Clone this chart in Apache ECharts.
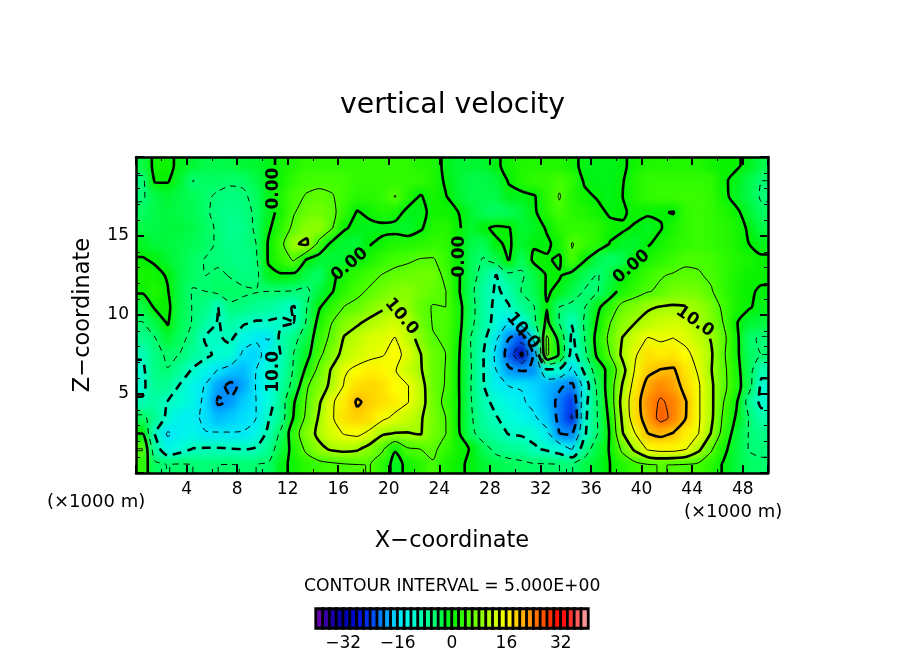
<!DOCTYPE html>
<html>
<head>
<meta charset="utf-8">
<style>
html, body { margin: 0; padding: 0; background: #fff; }
#container { width: 904px; height: 654px; }
</style>
<script src="https://cdn.jsdelivr.net/npm/echarts@6/dist/echarts.min.js"></script>
</head>
<body>
<div id="container"></div>
<script>
// x and z cell centres, in units of 1000 m
var xCells = [];
for (var n = 0; n < 50; n++) xCells.push(n + 0.5);
var zCells = [];
for (var m = 0; m < 20; m++) zCells.push(m + 0.5);

// vertical velocity, one row per km, top row (z=19.5) first
var velocityRows = [
	[-3,1,1,-1,-2,-3,-3,-3,-2,-2,  -1,1,2,3,3,3,3,3,3,3,  3,3,2,2,-1,-2,-2,-2,-0.5,1,  2,2,2,2,1,-1,-1,-1,-0.5,1,  2,2,2,2,2,1,0.5,0.5,-1,-3],
	[-6,0.4,0.3,-2,-5.1,-4,-4,-4.5,-4.5,-3,  -1,1,3,4,4,4,4,3,3,3,  3,3,3,2,-0.5,-2,-3,-3,-2.5,0.3,  2,3,3,4,3,-0.5,-1,-1,-0.2,2,  3,3,3,3,3,3,0.5,-1,-3,-5],
	[-5.5,-3,-2,-3,-3.5,-4.5,-5.5,-6,-5.5,-4,  -1,2,4,5.3,6,5.3,3.5,2.5,2.5,3,  5.2,2,-0.3,1.5,0.2,-2,-3,-3,-3,-1,  -1,-0.3,2.5,5.3,2,0.8,-0.3,-1,0,2,  3,3.5,3.5,3.5,3.5,3,1,-1.5,-3,-5.5],
	[-4,-3,-2.5,-3,-3.5,-4.5,-6,-6.5,-6,-4.5,  -1.5,1.5,4.8,6.5,7,6,3,-0.3,1,2,  1.5,-1,-1,1,1,0,-2,-3.5,-4,-3.5,  -2.5,-0.5,2,4,2.5,2,1,-0.5,-0.5,1,  0.5,0.3,-0.2,3,3.5,3,2,0.8,-2,-4],
	[-3,-3,-2.5,-2.5,-3,-4,-5.5,-7,-6.5,-4.5,  -0.5,2.5,6,8.5,9,5.3,0.3,-0.8,-1.2,-1,  -1.2,-2,-0.5,2,2.5,0.5,-2,-0.5,0.6,0.2,  -2,-1.5,0.3,2.5,3,3,2.5,1,0.5,-0.5,  -1.5,-0.2,1.5,3,3.5,3,2.5,1.5,-0.5,-3],
	[-1.5,-2.5,-2.5,-3,-3.5,-4,-5.5,-6.5,-6,-5,  0.5,4,9.5,10.8,3.5,-1,-2,-2.5,-0.2,1,  2,2,2.5,3,3,0.3,-3,-3.5,-0.5,0.5,  -2,-0.5,-0.5,1,5.2,3.5,2.5,-0.2,-1.5,-2,  -0.3,1,2.5,3,3.5,3,2.5,1.5,0,-1],
	[0.3,-0.5,-2,-3,-4,-5.2,-5.5,-6,-6.5,-5.5,  0.5,3,5.5,-0.3,-2,-2.5,-2,-0.3,1.5,3,  4,4.5,5.2,5.3,3.5,0.2,-3.5,-5.3,-3,0.2,  -4,1,0.3,-0.5,4.5,0.3,-3,-4.5,-3.5,-0.3,  1.5,2.5,3.5,4.5,4.5,4,3,2,1.5,0.5],
	[1.5,1,-0.3,-3,-4,-5,-4.5,-5.2,-6,-6,  -1,-0.5,-1,-3,-4.5,-0.8,1.5,3,4,5.2,  6,6.5,7,7,4,0.5,-3.5,-6.5,-10.2,-6,  -5.5,-3,0.3,0.3,-1.5,-3.5,-5.3,-3,0,2,  3.5,4.8,5.3,5.6,5.3,4.5,3,1.5,0.8,0.6],
	[0.5,2,0.2,-3,-5.3,-5,-4,-4,-4.5,-4.8,  -5,-5,-5.2,-5.8,-2.5,-0.3,2.5,4.2,5.5,7,  8,8.5,7,6,5.1,0.5,-4,-8,-10.5,-9,  -4.8,-3.5,0.4,-0.8,-3,-5.3,-5.2,-2,1.5,3,  4.8,5.5,7,7.5,7,5.3,3,1.5,0.4,-0.4],
	[-3,0.5,0.8,-3,-5.2,-6,-10,-5.5,-6,-7,  -7.5,-9,-10.3,-5.1,-0.3,2.5,5.2,6,8,9.5,  10.2,9,6,4.8,5,1.5,-3.5,-8,-11,-10.2,  -7,-5.1,-0.2,-5.1,-6,-5.1,-0.8,2.5,6.5,8,  9.5,10.2,10.5,10.2,9.5,7.5,4,1.5,0.3,-1],
	[-5.2,-3,0.3,-3.5,-5.2,-8,-10.3,-8,-9.5,-10.5,  -10.5,-10.5,-10,-4.5,1.5,5,8,9.5,11,12,  13,11.5,7,4.8,4.8,1.5,-4,-8,-11.5,-15.5,  -13,-6,1,-5.2,-9.8,-4.5,0.3,4.9,8.5,10,  11.5,12.5,13,12.5,10.5,8,4.8,0.2,-2,-2.5],
	[-7,-5.2,-2,-4.2,-6,-10.5,-10.3,-9.5,-13,-14.5,  -15.2,-8.5,-6,-3,3,6,10.5,12,13.5,14,  15.2,12,8.5,5.2,4.7,1,-5.2,-9,-14.5,-20,  -23,-14,6,-1.5,-11,-5,1.5,6,10.2,13,  15.3,14.5,15.1,14,12,9.8,6,1,-4.5,-5.4],
	[-9.5,-6,-4.5,-5.1,-7.5,-9,-11,-11,-16,-16.5,  -13,-9.8,-4.8,-1.5,4,8,11.5,13,14,14.8,  16,14,10.2,6.5,5,0.5,-5,-10,-16,-22,  -31,-19,6,-0.5,-12,-6,0.8,5.1,11,14.5,  18,17,17.5,16,13.5,10.5,5.5,1,-4,-5],
	[-11,-6,-5.1,-7.5,-10.5,-13,-15.2,-17,-18,-15,  -11.5,-9,-4.5,1,6.5,10.5,14.5,16,17,16.5,  15.2,12.5,10.5,6.5,4.9,0.3,-4.8,-10,-15,-19.5,  -20.2,-19.8,-11,-11,-16,-9,-2.5,1.5,8.5,15.5,  19,20.2,20.5,17.5,14.5,10.2,6,1.5,-3.5,-9],
	[-11,-7,-7,-10.5,-13,-15.3,-19,-21,-19,-14.8,  -12,-8,-3.5,4.5,8,11,15.5,18,18.5,18,  16,15.2,12,6.5,4.8,0.3,-5,-9.8,-14,-15,  -15.2,-16.5,-18,-19.5,-21,-13,-4,2.5,10.5,17,  21.5,23.5,22,18.5,15.5,10.8,6,2,-3.5,-11],
	[-9.5,-8,-10.2,-11,-13,-16,-20.5,-19.5,-17,-15,  -12,-7,-0.3,5.3,9.5,14.5,17,20.5,19,18,  17,15.2,12,7,4,0.4,-4.8,-9,-11,-13,  -14.5,-16,-18,-21,-24,-11.5,-4.8,2,12,18,  23,25.5,24,20.2,15.5,11,5,0.5,-7,-11],
	[-4,-7,-11,-14,-14,-16,-18,-17,-16,-15,  -10.3,-7,0.5,6,10.5,14.5,18,19,18,16,  14,12.5,10.5,7.5,5,0.3,-4.5,-8,-9.8,-11.5,  -13,-14.5,-17,-21,-25.5,-11,-5,1,11,18,  22,26.5,24,20,15.5,11,4,-0.5,-5.2,-8.5],
	[0,-10.2,-15.5,-14,-13,-14.8,-14.7,-14.8,-14.8,-13,  -9,-4,3,8,11,13.5,15.3,16,14,10.5,  9.8,9.8,10.3,7,5.1,0.5,-4,-7,-8.5,-10.2,  -10.5,-11,-14,-20,-20.5,-10.5,-5.2,0.4,9.8,15,  20,21,19.8,17,15.1,9.8,3,-2,-5.2,-6.5],
	[5.2,-8,-13,-11.5,-9.8,-9.5,-9.5,-9.8,-10,-9.5,  -7,-2.5,1.5,6,9,10.5,11,10.5,8,5.5,  0.3,4.5,5,6,3,1,-0.2,-3.5,-6,-7,  -7.5,-9.5,-10.5,-12,-15.2,-7,-2.5,0.3,6,11,  15.5,16.5,16.5,15.2,11,5.5,1,-2.5,-5.2,-5.5],
	[3,-4,-5.1,-4.5,-5,-5.2,-5,-4.8,-5.1,-5,  -4.5,-1,1,2.5,3.5,4,4.5,4.8,5.1,2.5,  -1.5,1,2.5,4.5,1.5,0.5,-0.5,-2,-3,-3.5,  -4,-4.5,-4.5,-5,-5.1,-3,-1.5,0,2,3.5,  4.5,5.2,4.8,4.5,4,2.5,-0.5,-2.5,-4,-4.5]
];

// contour levels, every 5; multiples of 10 are the heavy ones
var contourLevels = [-30, -25, -20, -15, -10, -5, 0, 5, 10, 15, 20, 25];

// labels sitting on the contours: text, level, x, z, rotation
var contourLabels = [
	['0.00', 0, 16.9, 13.2, 40],
	['0.00', 0, 10.9, 18.0, 90],
	['0.00', 0, 25.6, 13.7, 90],
	['0.00', 0, 39.2, 13.05, 40],
	['10.0', 10, 21.0, 9.9, -50],
	['10.0', 10, 44.2, 9.6, -35],
	['10.0', -10, 10.9, 6.4, 90],
	['10.0', -10, 30.6, 9.0, -50]
];

// colour bar
var barValues = [-39,-37,-35,-33,-31,-29,-27,-25,-23,-21,-19,-17,-15,-13,-11,-9,-7,-5,-3,-1,
	1,3,5,7,9,11,13,15,17,19,21,23,25,27,29,31,33,35,37,39];
var barTicks = [-32, -16, 0, 16, 32];
var barColors = ['#8000b0','#2000a0','#0000a8','#0008d0','#0038f0','#0090ff','#00e0ff','#00ffe0','#00ffa0','#00ff60','#00f000',
	'#40ff00','#80ff00','#c0ff00','#ffff00','#ffc000','#ff8000','#ff4000','#ff0000','#ff4040','#ffb0b0'];

var font = 'DejaVu Sans';
var LINES_LEVEL = 2;

// nodes for tracing: cell centres, plus the plot edges carrying the nearest row/column
function buildNodes() {
	var xs = [0].concat(xCells, [50]);
	var zs = [0].concat(zCells, [20]);
	var vals = [];
	for (var j = 0; j < zs.length; j++) {
		var r = velocityRows[19 - Math.min(19, Math.max(0, j - 1))];
		vals.push([r[0]].concat(r, [r[49]]));
	}
	return { xs: xs, zs: zs, vals: vals };
}

// marching squares, segments chained to polylines
var caseEdges = {
	1: [[3, 0]], 2: [[0, 1]], 3: [[3, 1]], 4: [[1, 2]], 5: [[3, 2], [0, 1]], 6: [[0, 2]], 7: [[3, 2]],
	8: [[2, 3]], 9: [[2, 0]], 10: [[2, 1], [0, 3]], 11: [[2, 1]], 12: [[1, 3]], 13: [[1, 0]], 14: [[0, 3]]
};

function traceLevel(nodes, level) {
	var xs = nodes.xs, zs = nodes.zs, v = nodes.vals;
	var edgePoint = {};
	var segs = [];
	function key(i, j, e) {
		if (e === 0) return 'h' + i + '_' + j;
		if (e === 2) return 'h' + i + '_' + (j + 1);
		if (e === 3) return 'v' + i + '_' + j;
		return 'v' + (i + 1) + '_' + j;
	}
	function cross(i, j, e) {
		var a, b, t;
		if (e === 0 || e === 2) {
			var jj = e === 0 ? j : j + 1;
			a = v[jj][i]; b = v[jj][i + 1]; t = (level - a) / (b - a);
			return [xs[i] + t * (xs[i + 1] - xs[i]), zs[jj]];
		}
		var ii = e === 3 ? i : i + 1;
		a = v[j][ii]; b = v[j + 1][ii]; t = (level - a) / (b - a);
		return [xs[ii], zs[j] + t * (zs[j + 1] - zs[j])];
	}
	for (var j = 0; j < zs.length - 1; j++) {
		for (var i = 0; i < xs.length - 1; i++) {
			var code = (v[j][i] >= level ? 1 : 0) + (v[j][i + 1] >= level ? 2 : 0) +
				(v[j + 1][i + 1] >= level ? 4 : 0) + (v[j + 1][i] >= level ? 8 : 0);
			var pairs = caseEdges[code];
			if (!pairs) continue;
			for (var p = 0; p < pairs.length; p++) {
				var k0 = key(i, j, pairs[p][0]), k1 = key(i, j, pairs[p][1]);
				edgePoint[k0] = cross(i, j, pairs[p][0]);
				edgePoint[k1] = cross(i, j, pairs[p][1]);
				segs.push([k0, k1]);
			}
		}
	}
	var byKey = {};
	segs.forEach(function(s, idx) {
		(byKey[s[0]] = byKey[s[0]] || []).push(idx);
		(byKey[s[1]] = byKey[s[1]] || []).push(idx);
	});
	var used = [];
	var lines = [];
	function walk(cur, out) {
		while (true) {
			var next = (byKey[cur] || []).filter(function(idx) { return !used[idx]; })[0];
			if (next === undefined) return;
			used[next] = true;
			cur = segs[next][0] === cur ? segs[next][1] : segs[next][0];
			out.push(cur);
		}
	}
	segs.forEach(function(s, idx) {
		if (used[idx]) return;
		used[idx] = true;
		var fwd = [s[1]], back = [];
		walk(s[1], fwd);
		walk(s[0], back);
		var chain = back.reverse().concat([s[0]], fwd);
		lines.push(chain.map(function(k) { return edgePoint[k]; }));
	});
	return lines;
}

// leave the contour open where its label sits
function splitAtLabels(line, level) {
	var parts = [[]];
	line.forEach(function(pt) {
		var hidden = contourLabels.some(function(l) {
			if (l[1] !== level) return false;
			var dx = (pt[0] - l[2]) * 12.64, dy = (pt[1] - l[3]) * 15.8;
			return dx * dx + dy * dy < 17 * 17;
		});
		if (hidden) parts.push([]);
		else parts[parts.length - 1].push(pt);
	});
	return parts.filter(function(p) { return p.length > 1; });
}

var fieldData = [];
velocityRows.forEach(function(row, r) {
	row.forEach(function(val, c) { fieldData.push([c, 19 - r, val]); });
});
var barData = barValues.map(function(val, c) { return [c, 0, val]; });

// field twice: sharp on the bottom layer, softened copy above it (see end of file)
var series = [{
	type: 'heatmap', xAxisIndex: 0, yAxisIndex: 0, data: fieldData, z: 1, zlevel: 0, animation: false
}, {
	type: 'heatmap', xAxisIndex: 0, yAxisIndex: 0, data: fieldData, z: 1, zlevel: 1, animation: false
}, {
	type: 'heatmap', xAxisIndex: 3, yAxisIndex: 3, data: barData, z: 1, zlevel: 0,
	itemStyle: { borderColor: '#000', borderWidth: 2.8 }, animation: false
}];

var nodes = buildNodes();
contourLevels.forEach(function(level) {
	var heavy = level % 10 === 0;
	traceLevel(nodes, level).forEach(function(line) {
		splitAtLabels(line, level).forEach(function(part) {
			series.push({
				type: 'line', xAxisIndex: 1, yAxisIndex: 1, data: part, z: 3, zlevel: LINES_LEVEL,
				showSymbol: false, symbol: 'none', smooth: 0.25, animation: false, silent: true, clip: true,
				lineStyle: {
					color: '#000', width: heavy ? 2.6 : 1,
					type: level < 0 ? (heavy ? [9, 6] : [6, 5]) : 'solid'
				}
			});
		});
	});
});

series.push({
	type: 'scatter', xAxisIndex: 1, yAxisIndex: 1, symbolSize: 0, z: 4, zlevel: LINES_LEVEL, animation: false, silent: true,
	data: contourLabels.map(function(l) {
		return {
			value: [l[2], l[3]],
			label: { show: true, position: 'inside', formatter: l[0], rotate: l[4], color: '#000',
				fontFamily: font, fontSize: 17, fontWeight: 'bold', opacity: 1 }
		};
	})
});

function frameAxis(o) {
	var base = {
		gridIndex: 0, type: 'value', z: 10, zlevel: LINES_LEVEL,
		axisLine: { show: true, onZero: false, lineStyle: { color: '#000', width: 2.5 } },
		axisTick: { show: true, inside: true, length: 8, lineStyle: { color: '#000', width: 2 } },
		splitLine: { show: false },
		axisLabel: { show: false }
	};
	for (var k in o) base[k] = o[k];
	return base;
}
function minor(split) {
	return { show: true, splitNumber: split, length: 4, lineStyle: { color: '#000', width: 1 } };
}
var hiddenCategory = function(grid, data) {
	return { type: 'category', gridIndex: grid, data: data, show: false };
};

var option = {
	backgroundColor: '#fff',
	animation: false,
	textStyle: { fontFamily: font },
	grid: [
		{ left: 136, top: 157, width: 632, height: 316 },
		{ left: 316, top: 609, width: 272, height: 19, show: true, backgroundColor: '#000', borderColor: '#000', borderWidth: 2 }
	],
	visualMap: {
		show: false, type: 'continuous', seriesIndex: [0, 1, 2], dimension: 2,
		min: -40, max: 40, inRange: { color: barColors }
	},
	xAxis: [
		hiddenCategory(0, xCells),
		frameAxis({
			position: 'bottom', min: 0, max: 50, interval: 4, minorTick: minor(2),
			axisLabel: { show: true, color: '#000', fontFamily: font, fontSize: 17, margin: 8, showMinLabel: false, showMaxLabel: false },
			name: 'X\u2212coordinate', nameLocation: 'middle', nameGap: 57,
			nameTextStyle: { color: '#000', fontFamily: font, fontSize: 22.5 }
		}),
		frameAxis({ position: 'top', min: 0, max: 50, interval: 4, minorTick: minor(2) }),
		hiddenCategory(1, barValues),
		{
			type: 'value', gridIndex: 1, position: 'bottom', min: -40, max: 40,
			axisLine: { show: false }, axisTick: { show: false }, splitLine: { show: false },
			axisLabel: {
				show: true, color: '#000', fontFamily: font, fontSize: 17, margin: 7,
				customValues: barTicks,
				formatter: function(v) { return v < 0 ? '\u2212' + (-v) : '' + v; }
			}
		}
	],
	yAxis: [
		hiddenCategory(0, zCells),
		frameAxis({
			position: 'left', min: 0, max: 20, interval: 5, minorTick: minor(5),
			axisLabel: { show: true, color: '#000', fontFamily: font, fontSize: 17, margin: 7, showMinLabel: false, showMaxLabel: false },
			name: 'Z\u2212coordinate', nameLocation: 'middle', nameGap: 41,
			nameTextStyle: { color: '#000', fontFamily: font, fontSize: 22.5 }
		}),
		frameAxis({ position: 'right', min: 0, max: 20, interval: 5, minorTick: minor(5) }),
		hiddenCategory(1, ['bar'])
	],
	graphic: [
		{ type: 'text', left: 340, top: 92, style: { text: 'vertical velocity', font: '28.3px "DejaVu Sans"', fill: '#000' } },
		{ type: 'text', left: 47, top: 493, style: { text: '(\u00d71000 m)', font: '18px "DejaVu Sans"', fill: '#000' } },
		{ type: 'text', left: 684, top: 503, style: { text: '(\u00d71000 m)', font: '18px "DejaVu Sans"', fill: '#000' } },
		{ type: 'text', left: 304, top: 578, style: { text: 'CONTOUR INTERVAL = 5.000E+00', font: '17.2px "DejaVu Sans"', fill: '#000' } }
	],
	series: series
};

var myChart = echarts.init(document.getElementById('container'));
myChart.setOption(option);

// soften the upper field layer only; the cells stay the ones
var fieldLayer = document.querySelector('canvas[data-zr-dom-id="zr_1"]');
if (fieldLayer) {
	fieldLayer.style.filter = 'blur(4px)';
	fieldLayer.style.clipPath = 'inset(157px 136px 181px 136px)';
}
</script>
</body>
</html>
